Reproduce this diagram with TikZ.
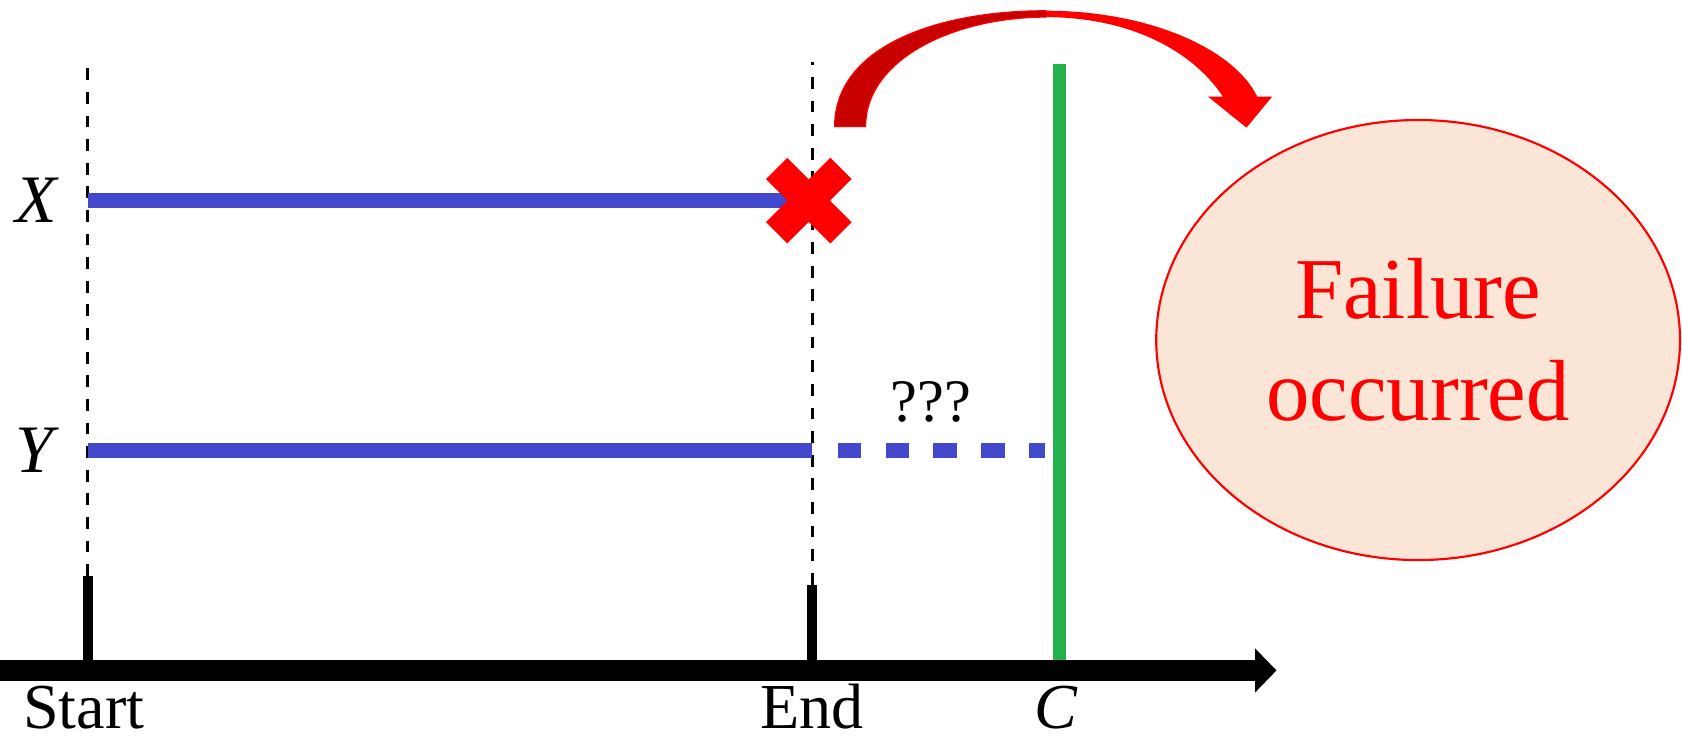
\documentclass[tikz,border=0pt]{standalone}
\usepackage{fontspec}
\setmainfont{Liberation Serif}
\usepackage{xcolor}
\usetikzlibrary{positioning,arrows.meta,shapes.geometric}

\definecolor{runblue}{RGB}{65,72,204}
\definecolor{cgreen}{RGB}{34,177,76}
\definecolor{peach}{RGB}{251,229,214}
\definecolor{darkred}{RGB}{200,0,0}

\begin{document}
\begin{tikzpicture}[x=0.01cm, y=-0.01cm, every node/.style={font=\fontsize{18}{20}\selectfont},
  guide/.style={line width=0.028cm, dash pattern=on 0.11cm off 0.11cm},
  tick/.style={line width=0.1cm},
  run/.style={runblue, line width=0.14cm},
  axislabel/.style={anchor=base, inner sep=0pt, font=\fontsize{17}{19}\selectfont},
  >={Triangle[length=0.2cm, width=0.4cm]}]
\useasboundingbox (0,0) rectangle (1568,692);

% time axis
\coordinate (o) at (0,625);
\coordinate (tip) at (1190,625);
\coordinate (s0) at (82,625);
\coordinate (s1) at (82,537);
\coordinate (s2) at (82,58);
\coordinate (e0) at (757,625);
\coordinate (e1) at (757,545);
\coordinate (e2) at (757,58);
\coordinate (c0) at (988,625);
\coordinate (c1) at (988,60);

\draw[guide] (s1) -- (s2);
\draw[guide] (e1) -- (e2);
\draw[tick] (s0) -- (s1);
\draw[tick] (e0) -- (e1);
\draw[cgreen, line width=0.12cm] (c0) -- (c1);
\draw[->, line width=0.19cm] (o) -- (tip);

\node[axislabel] (start) at (78,679) {Start};
\node[axislabel] (end) at (757,679) {End};
\node[axislabel] (clbl) at (985,679) {\textit{C}};

% runs
\node (lblx) at (35,187) {\textit{X}};
\node (lbly) at (35,420) {\textit{Y}};
\coordinate (x0) at (82,187);
\coordinate (x1) at (757,187);
\coordinate (y0) at (82,420);
\coordinate (y1) at (757,420);
\coordinate (y2) at (781,420);
\coordinate (y3) at (974,420);
\draw[run] (x0) -- (x1);
\draw[run] (y0) -- (y1);
\draw[run, dash pattern=on 0.22cm off 0.225cm] (y2) -- (y3);
\node[font=\fontsize{16}{18}\selectfont] (q) at (868,375) {???};

% crash mark
\coordinate (cross) at (754,187);
\draw[red, line width=0.28cm] ([shift={(-30,-30)}]cross) -- ([shift={(30,30)}]cross);
\draw[red, line width=0.28cm] ([shift={(-30,30)}]cross) -- ([shift={(30,-30)}]cross);

% failure
\node[ellipse, draw=red, line width=0.02cm, fill=peach, minimum width=4.88cm, minimum height=4.1cm,
  align=center, text=red, font=\fontsize{23}{27}\selectfont] (fail) at (1322,317) {Failure\\occurred};

% curved arrow
\fill[red] (975,10) .. controls (1070,10) and (1150,45) .. (1172,90)
  -- (1186,90) -- (1162,119) -- (1126,90) -- (1140,90)
  .. controls (1110,45) and (1050,16) .. (975,16) -- cycle;
\fill[darkred, draw=red, line width=0.01cm] (778,118) .. controls (778,45) and (870,10) .. (975,10)
  -- (975,16) .. controls (890,16) and (807,55) .. (807,118) -- cycle;
\end{tikzpicture}
\end{document}
